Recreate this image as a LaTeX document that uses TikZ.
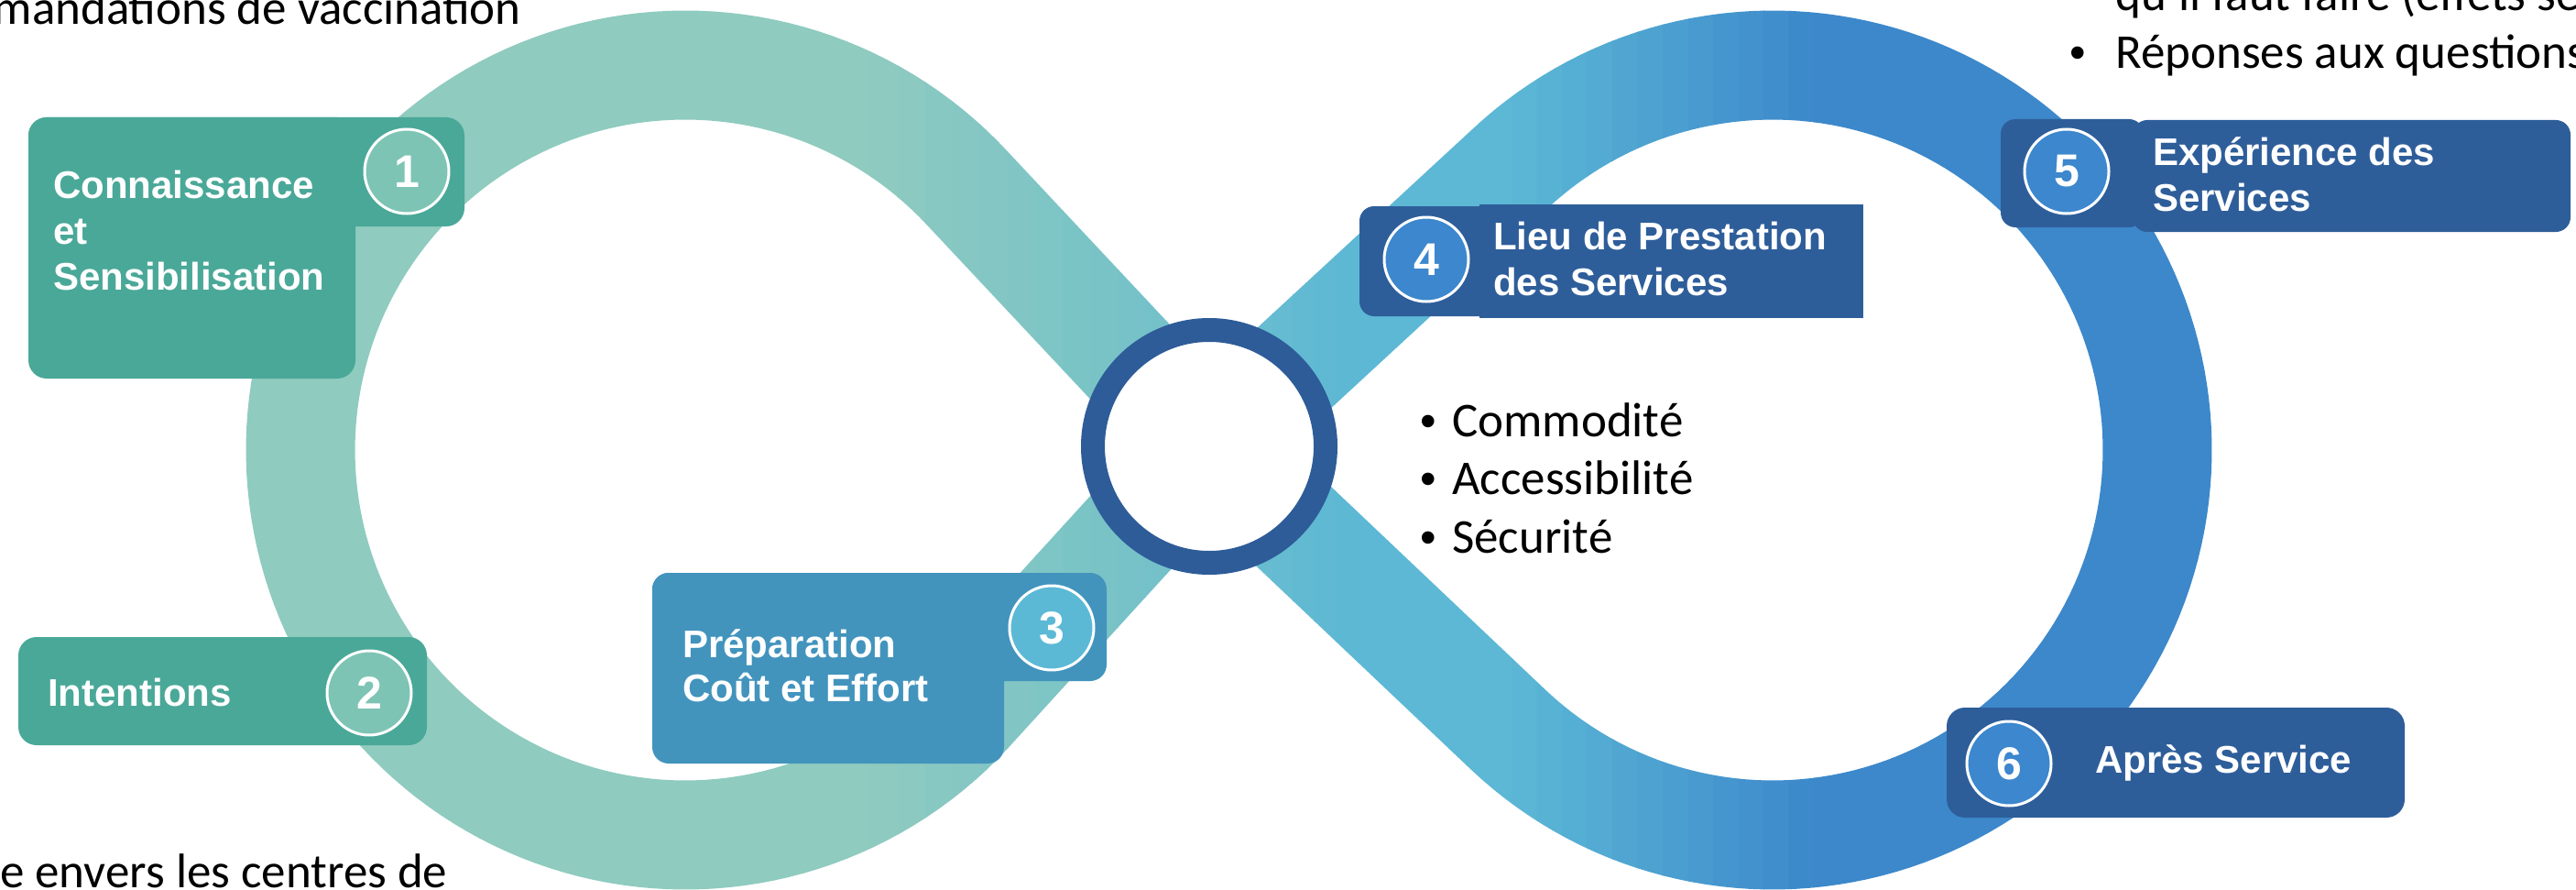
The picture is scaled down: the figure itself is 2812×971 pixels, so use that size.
\documentclass[tikz,border=0pt]{standalone}
\usepackage{fontspec}
\setmainfont{Carlito}
\newfontfamily\labfont{Liberation Sans}
\newfontfamily\digfont{Liberation Sans}
\newfontfamily\calib{Carlito}
\definecolor{T1}{RGB}{143,203,191}
\definecolor{T2}{RGB}{117,193,201}
\definecolor{B1}{RGB}{92,184,213}
\definecolor{B2}{RGB}{60,136,203}
\definecolor{tealbox}{RGB}{74,168,152}
\definecolor{tealnum}{RGB}{125,196,180}
\definecolor{midbox}{RGB}{66,148,189}
\definecolor{midnum}{RGB}{91,185,214}
\definecolor{darkbox}{RGB}{46,94,154}
\definecolor{darknum}{RGB}{60,135,205}
\definecolor{ringc}{RGB}{46,92,152}
\newcommand\ribbon[1]{%
  \draw[#1, line width=119, line join=round]
    (X) -- plot[domain=42.8:317.2, samples=140] ({748+420*cos(\x)}, {491-420*sin(\x)})
    -- (X) -- plot[domain=133.1:-133.1, samples=140] ({1935+420*cos(\x)}, {491-420*sin(\x)})
    -- cycle;}
\newcommand\gradseg[5]{%
  \foreach \j in {1,...,#5}{%
    \pgfmathsetmacro\xl{#1+(#2-#1)*(\j-1)/#5}%
    \pgfmathsetmacro\xr{#1+(#2-#1)*\j/#5+0.8}%
    \pgfmathsetmacro\pc{100*(\j-0.5)/#5}%
    \begin{scope}
      \clip (\xl,-100) rectangle (\xr,1100);
      \colorlet{rc}{#4!\pc!#3}%
      \ribbon{rc}
    \end{scope}
  }}
\tikzset{
  lab/.style={text=white, inner sep=0pt, anchor=base west,
    font=\labfont\bfseries\fontsize{42}{50}\selectfont},
  numc/.style={circle, minimum size=92pt, inner sep=0pt, draw=white, line width=3pt,
    text=white, font=\digfont\bfseries\fontsize{50}{50}\selectfont},
  body/.style={inner sep=0pt, text=black, font=\calib\fontsize{53}{63.5}\selectfont},
  bul/.style={inner sep=0pt, text=black, font=\digfont\fontsize{50}{63.5}\selectfont},
}
\begin{document}
\begin{tikzpicture}[x=1pt,y=-1pt]
\useasboundingbox (0,0) rectangle (2812,971);
\clip (0,0) rectangle (2812,971);
\fill[white] (0,0) rectangle (2812,971);
\coordinate (X) at (1320,487);
% infinity ribbon with horizontal gradient
\gradseg{-10}{950}{T1}{T1}{1}
\gradseg{950}{1250}{T1}{T2}{10}
\gradseg{1250}{1480}{T2}{B1}{10}
\gradseg{1480}{1650}{B1}{B1}{1}
\gradseg{1650}{1980}{B1}{B2}{12}
\gradseg{1980}{2600}{B2}{B2}{1}
% central ring
\draw[ringc, line width=26, fill=white] (X) circle[radius=127pt];
% box 1
\fill[tealbox, rounded corners=20] (31,128) rectangle (388,413);
\fill[tealbox, rounded corners=20] (31,128) rectangle (507,247);
\node[numc, fill=tealnum] (n1) at (444,187) {1};
\node[lab] (t1) at (58,216) {\parbox[t]{420pt}{Connaissance\\et\\Sensibilisation}};
% box 2
\fill[tealbox, rounded corners=20] (20,695) rectangle (466,813);
\node[numc, fill=tealnum] (n2) at (403,756) {2};
\node[lab] (t2) at (52,770) {Intentions};
% box 3
\fill[midbox, rounded corners=18] (712,625) rectangle (1096,833);
\fill[midbox, rounded corners=18] (712,625) rectangle (1208,743);
\node[numc, fill=midnum] (n3) at (1148,685) {3};
\node[lab] (t3) at (745,717) {\parbox[t]{420pt}{\fontsize{42}{48}\selectfont Préparation\\Coût et Effort}};
% box 4
\fill[darkbox, rounded corners=16] (1484,225) rectangle (1660,345);
\fill[darkbox] (1615,223) rectangle (2034,347);
\node[numc, fill=darknum] (n4) at (1557,283) {4};
\node[lab] (t4) at (1630,272) {\parbox[t]{420pt}{Lieu de Prestation\\des Services}};
% box 5
\fill[darkbox, rounded corners=16] (2184,130) rectangle (2340,248);
\fill[darkbox, rounded corners=16] (2328,131) rectangle (2806,253);
\node[numc, fill=darknum] (n5) at (2256,187) {5};
\node[lab] (t5) at (2350,180) {\parbox[t]{420pt}{Expérience des\\Services}};
% box 6
\fill[darkbox, rounded corners=20] (2125,772) rectangle (2625,892);
\node[numc, fill=darknum] (n6) at (2193,833) {6};
\node[lab] (t6) at (2287,843) {Après Service};
% bullet list next to the ring
\node[bul, anchor=base] (bl) at (1559,476) {\parbox[t]{30pt}{\centering •\\•\\•}};
\node[body, anchor=base west] (bt) at (1585,476) {\parbox[t]{500pt}{Commodité\\Accessibilité\\Sécurité}};
% partial texts at the edges
\node[body, anchor=base east] (tl) at (569,27) {mandations de vaccination};
\node[body, anchor=base west] (bleft) at (0,968) {e envers les centres de};
\node[body, anchor=base west] (tr1) at (2309,12) {qu’il faut faire (effets secondaires)};
\node[bul, anchor=base] (tr2b) at (2268,75) {•};
\node[body, anchor=base west] (tr2) at (2309,75) {Réponses aux questions};
\end{tikzpicture}
\end{document}
